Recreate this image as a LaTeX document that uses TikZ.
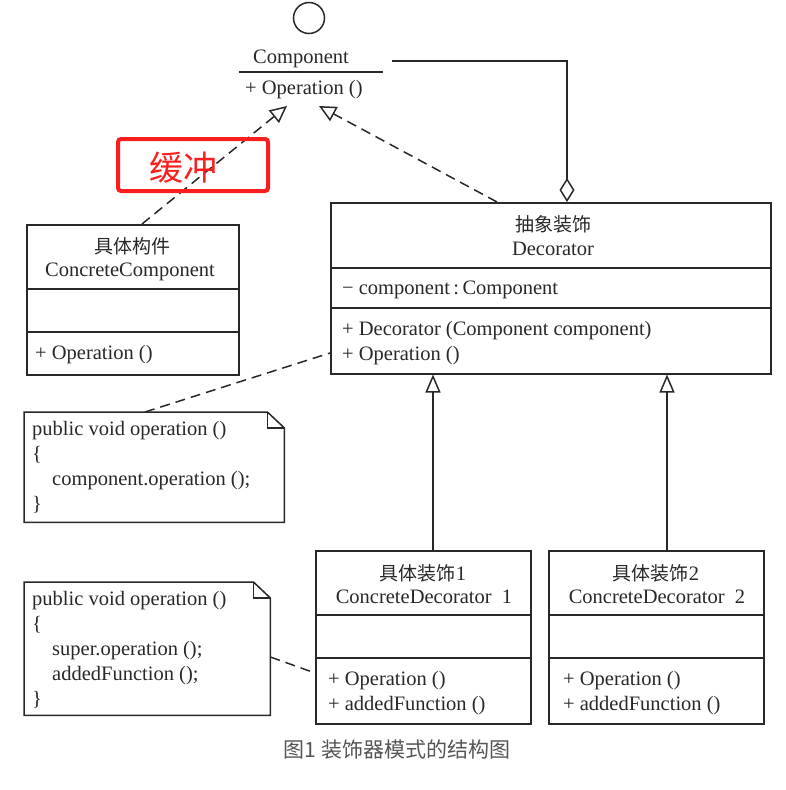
\documentclass[tikz,border=0pt]{standalone}
\usepackage{fontspec}
\setmainfont{Liberation Serif}
\newfontfamily\cjk{Noto Sans CJK SC}
\usetikzlibrary{arrows.meta}
\definecolor{redbox}{RGB}{250,30,30}
\definecolor{capgray}{RGB}{85,85,85}
\definecolor{ink}{RGB}{40,40,40}
\begin{document}
\begin{tikzpicture}[x=1pt,y=-1pt,
  lw/.style={line width=1.5pt, draw=ink},
  cls/.style={lw, rectangle, inner sep=0pt, anchor=north west},
  txt/.style={inner sep=0pt, font=\fontsize{20.5}{24}\selectfont, text=ink},
  ltxt/.style={txt, anchor=base west},
  ctxt/.style={txt, anchor=base},
  cjkt/.style={inner sep=0pt, font=\cjk\fontsize{19}{22}\selectfont, text=ink},
  realize/.style={lw, dash pattern=on 10pt off 6pt, -{Triangle[open,length=17pt,width=16pt]}},
  inherit/.style={lw, -{Triangle[open,length=18pt,width=15pt]}},
  aggr/.style={lw, -{Diamond[open,length=24pt,width=15pt]}},
  notelink/.style={lw, dash pattern=on 10pt off 6pt},
  notebox/.style={inner sep=0pt, anchor=north west},
]
\useasboundingbox (0,0) rectangle (786,790);

% Component interface
\node[lw, draw, circle, minimum size=31pt, inner sep=0pt] (iface) at (309,18) {};
\node[ctxt] (comp) at (301,63) {Component};
\draw[lw] (239,72) -- (383,72);
\node[ltxt] (compop) at (245,94) {+ Operation ()};
\coordinate (tipL) at (287,106);
\coordinate (tipR) at (319,106);
\coordinate (aggS) at (392,61);

% ConcreteComponent
\node[cls, draw, minimum width=212pt, minimum height=150pt] (cc) at (26,224) {};
\draw[lw] (cc.west |- 0,289) -- (cc.east |- 0,289);
\draw[lw] (cc.west |- 0,332) -- (cc.east |- 0,332);
\node[cjkt] (ccz) at (132,246) {具体构件};
\node[ctxt] (ccn) at (130,276) {ConcreteComponent};
\node[ltxt] (ccop) at (35,359) {+ Operation ()};

% Decorator
\node[cls, draw, minimum width=440pt, minimum height=171pt] (dec) at (330,202) {};
\draw[lw] (dec.west |- 0,268) -- (dec.east |- 0,268);
\draw[lw] (dec.west |- 0,308) -- (dec.east |- 0,308);
\node[cjkt] (decz) at (553,224) {抽象装饰};
\node[ctxt] (decn) at (553,255) {Decorator};
\node[ltxt] (deca) at (342,294) {−\ component\,:\,Component};
\node[ltxt] (decm1) at (342,335) {+ Decorator (Component component)};
\node[ltxt] (decm2) at (342,360) {+ Operation ()};

% ConcreteDecorator 1
\node[cls, draw, minimum width=215pt, minimum height=173pt] (cd1) at (315,550) {};
\draw[lw] (cd1.west |- 0,615) -- (cd1.east |- 0,615);
\draw[lw] (cd1.west |- 0,658) -- (cd1.east |- 0,658);
\node[inner sep=0pt, anchor=center, text=ink] (cd1z) at (423,573) {{\cjk\fontsize{19}{22}\selectfont 具体装饰}{\fontsize{20.5}{24}\selectfont 1}};
\node[ctxt] (cd1n) at (424,603) {ConcreteDecorator\ \ 1};
\node[ltxt] (cd1m1) at (328,685) {+ Operation ()};
\node[ltxt] (cd1m2) at (328,710) {+ addedFunction ()};

% ConcreteDecorator 2
\node[cls, draw, minimum width=215pt, minimum height=173pt] (cd2) at (548,550) {};
\draw[lw] (cd2.west |- 0,615) -- (cd2.east |- 0,615);
\draw[lw] (cd2.west |- 0,658) -- (cd2.east |- 0,658);
\node[inner sep=0pt, anchor=center, text=ink] (cd2z) at (656,573) {{\cjk\fontsize{19}{22}\selectfont 具体装饰}{\fontsize{20.5}{24}\selectfont 2}};
\node[ctxt] (cd2n) at (657,603) {ConcreteDecorator\ \ 2};
\node[ltxt] (cd2m1) at (563,685) {+ Operation ()};
\node[ltxt] (cd2m2) at (563,710) {+ addedFunction ()};

% Note 1
\node[notebox, minimum width=260pt, minimum height=110pt] (n1) at (24,412) {};
\draw[lw] (n1.north west) -- ([xshift=-17pt]n1.north east) -- ([yshift=-16pt]n1.north east)
  -- (n1.south east) -- (n1.south west) -- cycle;
\draw[lw] ([xshift=-17pt]n1.north east) |- ([yshift=-16pt]n1.north east);
\node[ltxt] (n1a) at (32,435) {public void operation ()};
\node[ltxt] (n1b) at (32,460) {\{};
\node[ltxt] (n1c) at (52,485) {component.operation ();};
\node[ltxt] (n1d) at (32,510) {\}};

% Note 2
\node[notebox, minimum width=246pt, minimum height=133pt] (n2) at (24,582) {};
\draw[lw] (n2.north west) -- ([xshift=-17pt]n2.north east) -- ([yshift=-16pt]n2.north east)
  -- (n2.south east) -- (n2.south west) -- cycle;
\draw[lw] ([xshift=-17pt]n2.north east) |- ([yshift=-16pt]n2.north east);
\node[ltxt] (n2a) at (32,605) {public void operation ()};
\node[ltxt] (n2b) at (32,630) {\{};
\node[ltxt] (n2c) at (52,655) {super.operation ();};
\node[ltxt] (n2d) at (52,680) {addedFunction ();};
\node[ltxt] (n2e) at (32,705) {\}};

% Connectors
\draw[aggr] (aggS) -- (aggS -| 567,0) -- (dec.north -| 567,0);
\draw[realize] (cc.north -| 142,0) -- (tipL);
\draw[realize] (dec.north -| 497,0) -- (tipR);
\draw[inherit] (cd1.north -| 433,0) -- (dec.south -| 433,0);
\draw[inherit] (cd2.north -| 667,0) -- (dec.south -| 667,0);
\draw[notelink] (n1.north -| 145,0) -- (dec.west |- 0,353);
\draw[notelink] (n2.east |- 0,657) -- (cd1.west |- 0,673);

% Red annotation
\node[draw=redbox, line width=4pt, rounded corners=3pt, minimum width=150pt, minimum height=52pt, inner sep=0pt] (buf) at (193,165) {};
\node[inner sep=0pt, text=redbox, font=\cjk\fontsize{34}{38}\selectfont] (buft) at (183,168) {缓冲};

% Caption
\node[inner sep=0pt, text=capgray, font=\cjk\fontsize{21}{24}\selectfont] (cap) at (397,750) {图1 装饰器模式的结构图};
\end{tikzpicture}
\end{document}
